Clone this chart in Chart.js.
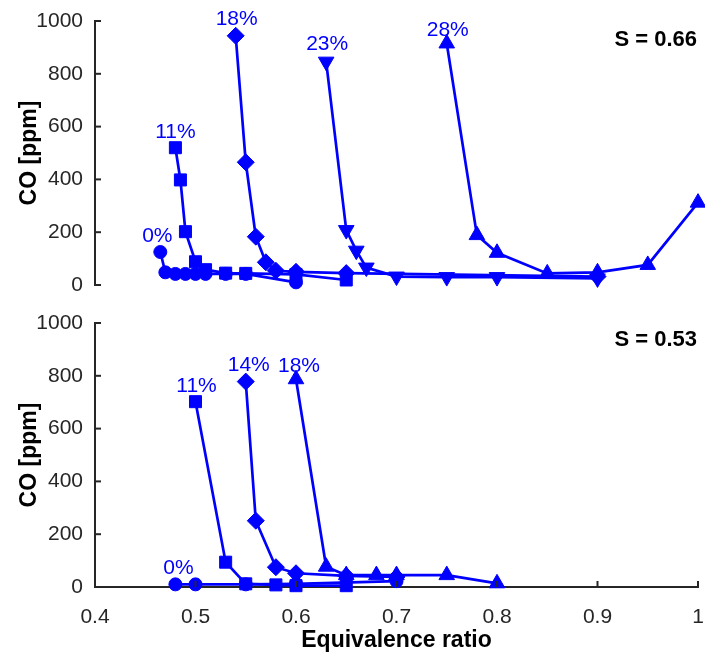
<!DOCTYPE html>
<html>
<head>
<meta charset="utf-8">
<script src="https://cdn.jsdelivr.net/npm/chart.js@4.4.0/dist/chart.umd.min.js"></script>
<style>
  html, body { margin: 0; padding: 0; background: #fff; }
  body { width: 705px; height: 657px; position: relative; overflow: hidden; }
  canvas { position: absolute; left: 0; }
  #c1 { top: 0; }
  #c2 { top: 300px; }
</style>
</head>
<body>
<canvas id="c1" width="705" height="300"></canvas>
<canvas id="c2" width="705" height="357"></canvas>
<script>
// ---------- data ----------
const xTickValues = [0.4, 0.5, 0.6, 0.7, 0.8, 0.9, 1.0];
const yTickValues = [0, 200, 400, 600, 800, 1000];

// Top panel, S = 0.66
const top0Phi  = [0.465, 0.47, 0.48, 0.49, 0.50, 0.51, 0.53, 0.55, 0.60];
const top0CO   = [125, 48, 42, 42, 42, 42, 42, 42, 10];
const top11Phi = [0.48, 0.485, 0.49, 0.50, 0.51, 0.53, 0.55, 0.60, 0.65];
const top11CO  = [520, 398, 202, 88, 58, 45, 44, 40, 19];
const top18Phi = [0.54, 0.55, 0.56, 0.57, 0.58, 0.60, 0.65, 0.90];
const top18CO  = [944, 465, 183, 86, 54, 50, 45, 32];
const top23Phi = [0.63, 0.65, 0.66, 0.67, 0.70, 0.75, 0.80, 0.90];
const top23CO  = [846, 208, 130, 66, 32, 30, 30, 25];
const top28Phi = [0.75, 0.78, 0.80, 0.85, 0.90, 0.95, 1.00];
const top28CO  = [915, 189, 122, 44, 48, 76, 312];
const topLabels = ['0%', '11%', '18%', '23%', '28%'];
const topPanelText = 'S = 0.66';

// Bottom panel, S = 0.53
const bot0Phi  = [0.48, 0.50, 0.55, 0.60, 0.70];
const bot0CO   = [10, 10, 10, 12, 22];
const bot11Phi = [0.50, 0.53, 0.55, 0.58, 0.60, 0.65];
const bot11CO  = [702, 94, 12, 8, 5, 5];
const bot14Phi = [0.55, 0.56, 0.58, 0.60, 0.65, 0.70];
const bot14CO  = [778, 251, 75, 52, 42, 38];
const bot18Phi = [0.60, 0.63, 0.65, 0.68, 0.70, 0.75, 0.80];
const bot18CO  = [787, 77, 45, 45, 45, 45, 14];
const botLabels = ['0%', '11%', '14%', '18%'];
const botPanelText = 'S = 0.53';

const xTitle = 'Equivalence ratio';
const yTitle = 'CO [ppm]';

// ---------- styling ----------
const FONT = '"Liberation Sans", Arial, Helvetica, sans-serif';
const BLUE = '#0000ff';
const AXIS = '#262626';
Chart.defaults.font.family = FONT;

const markers = {
  circle:   { pointStyle: 'circle',  pointRadius: 6.5, pointRotation: 0 },
  square:   { pointStyle: 'rect',    pointRadius: 8.5, pointRotation: 0 },
  diamond:  { pointStyle: 'rectRot', pointRadius: 8.5, pointRotation: 0 },
  triDown:  { pointStyle: 'triangle', pointRadius: 9, pointRotation: 180 },
  triUp:    { pointStyle: 'triangle', pointRadius: 9, pointRotation: 0 }
};

function makeDataset(xs, ys, marker) {
  const m = markers[marker];
  return {
    data: xs.map((x, i) => ({ x: x, y: ys[i] })),
    borderColor: BLUE,
    backgroundColor: BLUE,
    borderWidth: 2.7,
    pointStyle: m.pointStyle,
    pointRadius: m.pointRadius,
    pointHoverRadius: m.pointRadius,
    pointRotation: m.pointRotation,
    pointBorderWidth: 1,
    pointBackgroundColor: BLUE,
    pointBorderColor: BLUE,
    tension: 0,
    fill: false,
    clip: false
  };
}

// labels anchored to first point of each series + panel tag
const annotatePlugin = {
  id: 'annotate',
  afterDatasetsDraw(chart, args, opts) {
    const ctx = chart.ctx;
    const xs = chart.scales.x, ys = chart.scales.y;
    ctx.save();
    ctx.font = '21px ' + FONT;
    ctx.fillStyle = BLUE;
    ctx.textAlign = 'center';
    ctx.textBaseline = 'middle';
    chart.data.datasets.forEach((d, i) => {
      const p = d.data[0];
      const off = opts.offsets[i];
      ctx.fillText(opts.labels[i], xs.getPixelForValue(p.x) + off[0], ys.getPixelForValue(p.y) + off[1]);
    });
    ctx.font = 'bold 22px ' + FONT;
    ctx.fillStyle = '#000';
    ctx.textAlign = 'right';
    ctx.fillText(opts.panel, chart.chartArea.right - 1, chart.chartArea.top + opts.panelDy);
    ctx.restore();
  }
};

// inward tick marks
const inwardTicks = {
  id: 'inwardTicks',
  afterDraw(chart, args, opts) {
    const ctx = chart.ctx;
    const ys = chart.scales.y, xs = chart.scales.x;
    ctx.save();
    ctx.strokeStyle = AXIS;
    ctx.lineWidth = 2;
    const x0 = chart.chartArea.left;
    yTickValues.forEach(v => {
      const py = ys.getPixelForValue(v);
      ctx.beginPath(); ctx.moveTo(x0, py); ctx.lineTo(x0 + 6, py); ctx.stroke();
    });
    if (opts.xTicks) {
      const y0 = chart.chartArea.bottom;
      xTickValues.forEach(v => {
        const px = xs.getPixelForValue(v);
        ctx.beginPath(); ctx.moveTo(px, y0); ctx.lineTo(px, y0 - 6); ctx.stroke();
      });
    }
    ctx.restore();
  }
};

function yScale() {
  return {
    type: 'linear', min: 0, max: 1000,
    afterFit(s) { s.width = 95; s.paddingTop = 0; s.paddingBottom = 0; },
    afterBuildTicks(s) { s.ticks = yTickValues.map(v => ({ value: v })); },
    grid: { display: false, drawTicks: false },
    border: { display: true, color: AXIS, width: 2 },
    ticks: { color: AXIS, font: { size: 21 }, padding: 12, callback: (v) => String(v) },
    title: { display: true, text: yTitle, color: '#000', font: { size: 23, weight: 'bold' }, padding: { top: 16, bottom: 0 } }
  };
}

function xScale(show) {
  return {
    type: 'linear', min: 0.4, max: 1.0,
    display: show,
    afterFit(s) { if (show) s.height = 70; s.paddingLeft = 0; s.paddingRight = 0; },
    afterBuildTicks(s) { s.ticks = xTickValues.map(v => ({ value: v })); },
    grid: { display: false, drawTicks: false },
    border: { display: show, color: AXIS, width: 2 },
    ticks: {
      color: AXIS, font: { size: 21 }, padding: 18, maxRotation: 0, autoSkip: false,
      callback: (v) => (Math.round(v * 10) / 10).toString()
    },
    title: { display: show, text: xTitle, color: '#000', font: { size: 23, weight: 'bold' }, padding: { top: 0, bottom: 3 } }
  };
}

function commonOptions(show, padding, annot) {
  return {
    responsive: false,
    animation: false,
    devicePixelRatio: 1,
    layout: { padding: padding, autoPadding: false },
    plugins: {
      legend: { display: false },
      tooltip: { enabled: false },
      annotate: annot,
      inwardTicks: { xTicks: show }
    },
    scales: { x: xScale(show), y: yScale() }
  };
}

new Chart(document.getElementById('c1'), {
  type: 'line',
  data: {
    datasets: [
      makeDataset(top0Phi, top0CO, 'circle'),
      makeDataset(top11Phi, top11CO, 'square'),
      makeDataset(top18Phi, top18CO, 'diamond'),
      makeDataset(top23Phi, top23CO, 'triDown'),
      makeDataset(top28Phi, top28CO, 'triUp')
    ]
  },
  options: commonOptions(false, { top: 21, right: 7, bottom: 15, left: 0 }, {
    labels: topLabels,
    offsets: [[-3, -16], [0, -16], [1, -17], [1, -17], [1, -13]],
    panel: topPanelText, panelDy: 19
  }),
  plugins: [annotatePlugin, inwardTicks]
});

new Chart(document.getElementById('c2'), {
  type: 'line',
  data: {
    datasets: [
      makeDataset(bot0Phi, bot0CO, 'circle'),
      makeDataset(bot11Phi, bot11CO, 'square'),
      makeDataset(bot14Phi, bot14CO, 'diamond'),
      makeDataset(bot18Phi, bot18CO, 'triUp')
    ]
  },
  options: commonOptions(true, { top: 23, right: 7, bottom: 0, left: 0 }, {
    labels: botLabels,
    offsets: [[3, -16], [1, -15], [3, -16], [3, -13]],
    panel: botPanelText, panelDy: 17
  }),
  plugins: [annotatePlugin, inwardTicks]
});
</script>
</body>
</html>
